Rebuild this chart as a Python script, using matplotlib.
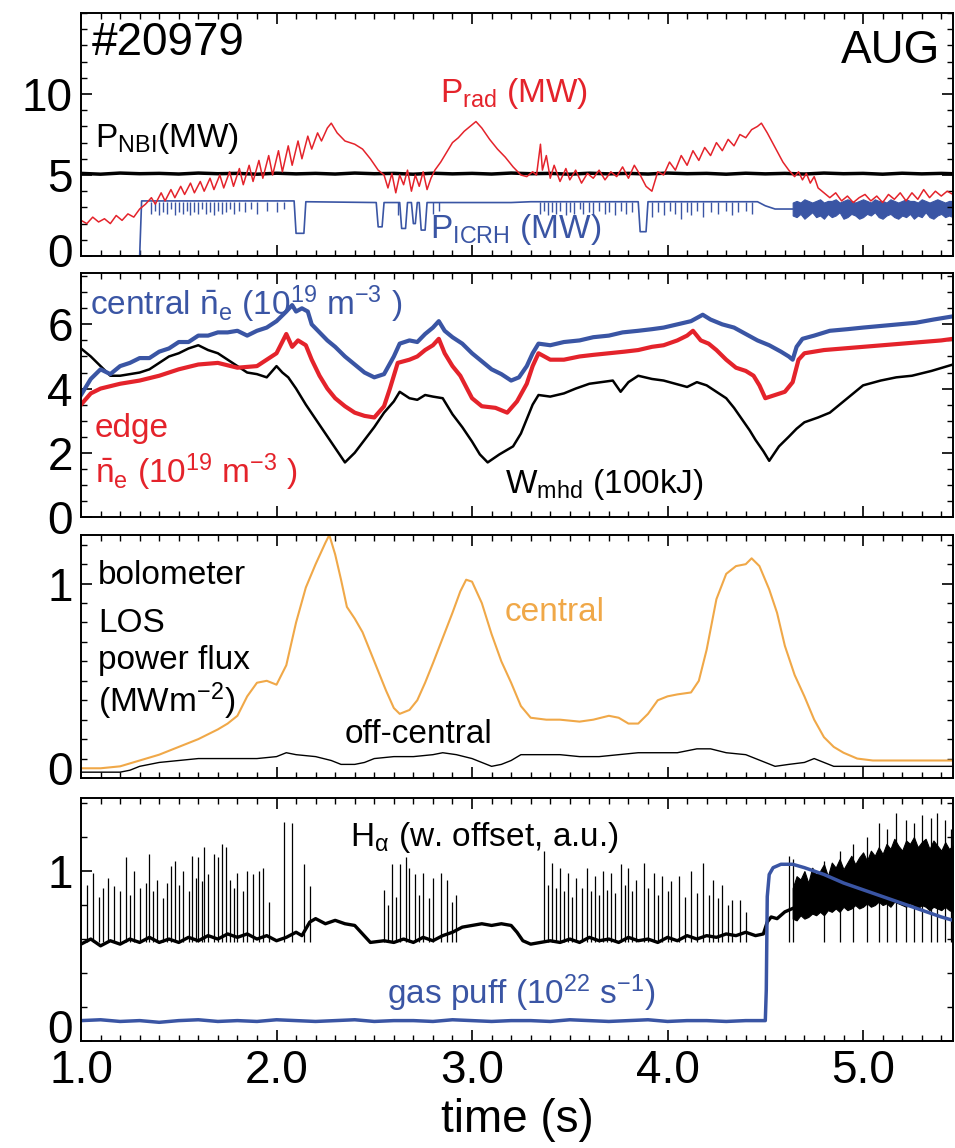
import matplotlib
matplotlib.use("Agg")
import matplotlib.pyplot as plt
from matplotlib.ticker import MultipleLocator, FixedLocator, FormatStrFormatter, FuncFormatter

plt.rcParams['font.family'] = ['Liberation Sans', 'DejaVu Sans']
plt.rcParams['mathtext.fontset'] = 'custom'
plt.rcParams['mathtext.rm'] = 'Liberation Sans'
plt.rcParams['mathtext.it'] = 'Liberation Sans:italic'
plt.rcParams['mathtext.bf'] = 'Liberation Sans:bold'

RED = '#e4232b'
BLUE = '#3a55a4'
ORANGE = '#f0a848'

# ---------------- panel 1: heating / radiated power (MW) ----------------
nbi_t = [1.0, 1.1, 1.2, 1.3, 1.4, 1.5, 1.6, 1.7, 1.8, 1.9, 2.0, 2.1, 2.2, 2.3, 2.4, 2.5,
         2.6, 2.7, 2.8, 2.9, 3.0, 3.1, 3.2, 3.3, 3.4, 3.5, 3.6, 3.7, 3.8, 3.9, 4.0, 4.1,
         4.2, 4.3, 4.4, 4.5, 4.6, 4.7, 4.8, 4.9, 5.0, 5.1, 5.2, 5.3, 5.4, 5.46]
nbi_v = [5.1, 5.05, 5.12, 5.08, 5.1, 5.06, 5.12, 5.08, 5.1, 5.05, 5.11, 5.07, 5.1, 5.06,
         5.12, 5.08, 5.1, 5.05, 5.11, 5.07, 5.1, 5.06, 5.12, 5.08, 5.1, 5.05, 5.11, 5.07,
         5.1, 5.06, 5.12, 5.08, 5.1, 5.05, 5.11, 5.07, 5.1, 5.06, 5.12, 5.08, 5.1, 5.05,
         5.11, 5.07, 5.1, 5.08]

prad_t = [1.00, 1.03, 1.06, 1.09, 1.12, 1.15, 1.18, 1.21, 1.24, 1.27, 1.30, 1.33, 1.36,
          1.38, 1.41, 1.43, 1.46, 1.48, 1.51, 1.53, 1.56, 1.58, 1.61, 1.63, 1.66, 1.68,
          1.71, 1.73, 1.76, 1.78, 1.81, 1.83, 1.86, 1.88, 1.91, 1.93, 1.96, 1.98, 2.01,
          2.03, 2.06, 2.08, 2.11, 2.13, 2.16, 2.18, 2.21, 2.23, 2.26, 2.28, 2.31, 2.35,
          2.40, 2.44, 2.48, 2.52, 2.55, 2.57, 2.59, 2.61, 2.63, 2.65, 2.67, 2.69, 2.71,
          2.73, 2.75, 2.77, 2.79, 2.81, 2.84, 2.87, 2.90, 2.93, 2.96, 2.99, 3.02, 3.05,
          3.09, 3.13, 3.17, 3.21, 3.25, 3.28, 3.31, 3.33, 3.35, 3.36, 3.38, 3.40, 3.42,
          3.45, 3.48, 3.50, 3.53, 3.56, 3.59, 3.62, 3.65, 3.68, 3.71, 3.74, 3.77, 3.80,
          3.83, 3.86, 3.89, 3.92, 3.95, 3.98, 4.01, 4.04, 4.07, 4.10, 4.13, 4.16, 4.19,
          4.22, 4.25, 4.28, 4.31, 4.34, 4.37, 4.40, 4.43, 4.46, 4.48, 4.51, 4.55, 4.59,
          4.62, 4.65, 4.67, 4.69, 4.71, 4.73, 4.75, 4.77, 4.80, 4.83, 4.86, 4.89, 4.92,
          4.95, 4.98, 5.01, 5.04, 5.07, 5.10, 5.13, 5.16, 5.19, 5.22, 5.25, 5.28, 5.31,
          5.34, 5.37, 5.40, 5.43, 5.46]
prad_v = [2.2, 2.0, 2.4, 2.1, 2.3, 2.0, 2.5, 2.2, 2.6, 2.4, 2.9, 3.2, 3.6,
          3.2, 3.9, 3.4, 4.1, 3.6, 4.3, 3.8, 4.5, 3.9, 4.6, 4.0, 4.8, 4.1,
          5.0, 4.2, 5.2, 4.3, 5.4, 4.4, 5.6, 4.6, 5.9, 4.8, 6.2, 5.0, 6.5,
          5.2, 6.8, 5.6, 7.1, 6.0, 7.4, 6.6, 7.6, 7.1, 7.9, 8.2, 7.6, 7.1,
          6.9, 6.6, 6.0, 5.3, 5.0, 4.2, 5.1, 3.9, 5.0, 4.4, 5.3, 4.0, 5.0,
          4.3, 5.2, 4.1, 4.8, 5.3, 5.8, 6.4, 7.0, 7.3, 7.7, 8.0, 8.3, 7.9,
          7.2, 6.6, 6.1, 5.5, 5.0, 4.9, 5.2, 5.0, 6.9, 5.3, 6.2, 4.8, 5.6,
          4.6, 5.4, 4.7, 5.3, 4.5, 5.1, 4.8, 5.3, 4.7, 5.2, 4.9, 5.5, 4.8,
          5.6, 5.0, 4.3, 4.0, 5.2, 5.0, 5.8, 5.3, 6.2, 5.6, 6.5, 5.9, 6.7,
          6.2, 7.0, 6.5, 7.2, 6.8, 7.5, 7.3, 7.8, 8.0, 8.2, 7.6, 6.7, 5.8,
          5.3, 4.9, 5.2, 4.7, 5.1, 4.5, 4.9, 4.2, 3.9, 3.6, 3.9, 3.4, 3.7,
          3.3, 3.6, 3.8, 3.4, 3.7, 3.3, 3.8, 3.5, 3.9, 3.4, 3.9, 3.5, 4.1,
          3.6, 4.0, 3.7, 4.0, 3.8]

icrh_t = [1.00, 1.30, 1.31, 2.09, 2.10, 2.14, 2.15, 2.51, 2.52, 2.54, 2.55, 2.63, 2.64,
          2.66, 2.67, 2.69, 2.70, 2.71, 2.72, 2.73, 2.74, 2.76, 2.77, 3.20, 3.30, 3.85,
          3.86, 3.89, 3.90, 4.46, 4.50, 4.55, 4.64]
icrh_v = [0.0, 0.0, 3.4, 3.4, 1.4, 1.4, 3.35, 3.3, 1.8, 1.8, 3.3, 3.3, 1.7,
          1.7, 3.3, 3.3, 2.0, 2.0, 3.3, 3.3, 1.6, 1.6, 3.3, 3.3, 3.35, 3.35,
          1.5, 1.5, 3.35, 3.35, 3.1, 2.9, 2.9]
icrh_spike_t = [1.36, 1.38, 1.40, 1.42, 1.44, 1.46, 1.48, 1.50, 1.52, 1.54, 1.56, 1.58,
                1.60, 1.62, 1.64, 1.66, 1.68, 1.70, 1.72, 1.74, 1.76, 1.78, 1.81, 1.84,
                1.87, 1.90, 1.95, 2.00, 2.04, 2.62, 2.80, 2.83, 3.35, 3.37, 3.39, 3.41,
                3.43, 3.45, 3.48, 3.50, 3.52, 3.55, 3.57, 3.60, 3.62, 3.65, 3.68, 3.70,
                3.73, 3.76, 3.79, 3.82, 3.92, 3.95, 3.98, 4.01, 4.04, 4.07, 4.10, 4.12,
                4.15, 4.18, 4.22, 4.26, 4.30, 4.33, 4.36, 4.40, 4.43]
icrh_spike_lo = [2.6, 2.8, 2.5, 2.7, 2.6, 2.9, 2.5, 2.7, 2.6, 2.8, 2.5, 2.7,
                 2.6, 2.9, 2.6, 2.7, 2.5, 2.8, 2.6, 2.7, 2.9, 2.6, 2.8, 2.7,
                 2.9, 2.6, 2.8, 2.7, 2.9, 2.5, 2.6, 2.8, 2.6, 2.8, 2.5, 2.7,
                 2.6, 2.8, 2.5, 2.7, 2.6, 2.9, 2.6, 2.7, 2.5, 2.8, 2.6, 2.7,
                 2.5, 2.8, 2.6, 2.7, 2.4, 2.7, 2.5, 2.8, 2.6, 2.3, 2.7, 2.5,
                 2.8, 2.4, 2.7, 2.6, 2.8, 2.5, 2.7, 2.8, 2.6]

band_t = [4.64, 4.66, 4.68, 4.70, 4.72, 4.74, 4.76, 4.78, 4.80, 4.82, 4.84, 4.86, 4.88,
          4.90, 4.92, 4.94, 4.96, 4.98, 5.00, 5.02, 5.04, 5.06, 5.08, 5.10, 5.12, 5.14,
          5.16, 5.18, 5.20, 5.22, 5.24, 5.26, 5.28, 5.30, 5.32, 5.34, 5.36, 5.38, 5.40,
          5.42, 5.44, 5.46]
icrh_band_lo = [2.5, 2.4, 2.6, 2.3, 2.5, 2.7, 2.4, 2.5, 2.3, 2.6, 2.4, 2.5, 2.7, 2.3,
                2.4, 2.6, 2.5, 2.3, 2.4, 2.6, 2.5, 2.7, 2.4, 2.3, 2.5, 2.6, 2.4, 2.3,
                2.5, 2.4, 2.6, 2.3, 2.5, 2.4, 2.7, 2.4, 2.3, 2.5, 2.6, 2.4, 2.5, 2.4]
icrh_band_hi = [3.3, 3.4, 3.3, 3.5, 3.4, 3.3, 3.4, 3.5, 3.3, 3.4, 3.4, 3.5, 3.3, 3.4,
                3.5, 3.4, 3.3, 3.4, 3.5, 3.4, 3.3, 3.5, 3.4, 3.4, 3.3, 3.5, 3.4, 3.3,
                3.4, 3.5, 3.4, 3.4, 3.3, 3.5, 3.4, 3.3, 3.4, 3.5, 3.4, 3.3, 3.4, 3.4]

# ---------------- panel 2: densities and stored energy ----------------
nec_t = [1.00, 1.05, 1.10, 1.15, 1.20, 1.25, 1.30, 1.35, 1.40, 1.45, 1.50, 1.55, 1.60,
         1.65, 1.70, 1.75, 1.80, 1.85, 1.90, 1.95, 2.00, 2.05, 2.08, 2.10, 2.13, 2.16,
         2.18, 2.22, 2.26, 2.30, 2.35, 2.40, 2.45, 2.50, 2.55, 2.60, 2.63, 2.68, 2.72,
         2.76, 2.80, 2.83, 2.86, 2.90, 2.95, 3.00, 3.05, 3.10, 3.15, 3.20, 3.24, 3.28,
         3.31, 3.34, 3.40, 3.47, 3.55, 3.62, 3.70, 3.77, 3.85, 3.92, 3.98, 4.05, 4.12,
         4.18, 4.22, 4.28, 4.34, 4.40, 4.46, 4.52, 4.58, 4.62, 4.64, 4.66, 4.69, 4.75,
         4.83, 4.92, 5.00, 5.09, 5.18, 5.27, 5.36, 5.46]
nec_v = [3.8, 4.3, 4.6, 4.45, 4.7, 4.8, 4.95, 4.95, 5.15, 5.25, 5.45, 5.45, 5.65,
         5.65, 5.75, 5.75, 5.8, 5.65, 5.8, 5.9, 6.1, 6.4, 6.6, 6.4, 6.5, 6.4,
         6.0, 5.75, 5.5, 5.3, 5.0, 4.75, 4.5, 4.35, 4.45, 5.0, 5.4, 5.5, 5.45,
         5.7, 5.9, 6.1, 5.8, 5.6, 5.4, 5.1, 4.85, 4.6, 4.45, 4.25, 4.35, 4.7,
         5.1, 5.4, 5.35, 5.45, 5.5, 5.6, 5.65, 5.75, 5.8, 5.85, 5.9, 6.0, 6.1,
         6.3, 6.15, 6.0, 5.9, 5.7, 5.5, 5.35, 5.15, 5.0, 4.9, 5.3, 5.55, 5.65,
         5.8, 5.85, 5.9, 5.95, 6.0, 6.05, 6.15, 6.25]

nee_t = [1.00, 1.05, 1.10, 1.20, 1.30, 1.40, 1.50, 1.60, 1.70, 1.80, 1.90, 1.95, 2.00,
         2.05, 2.08, 2.11, 2.15, 2.18, 2.22, 2.26, 2.30, 2.35, 2.40, 2.45, 2.50, 2.55,
         2.58, 2.62, 2.68, 2.72, 2.76, 2.80, 2.83, 2.86, 2.90, 2.94, 3.00, 3.05, 3.12,
         3.18, 3.23, 3.28, 3.31, 3.34, 3.40, 3.47, 3.55, 3.62, 3.70, 3.78, 3.85, 3.92,
         3.98, 4.05, 4.10, 4.13, 4.17, 4.21, 4.25, 4.30, 4.35, 4.40, 4.44, 4.47, 4.50,
         4.55, 4.60, 4.64, 4.67, 4.70, 4.80, 4.90, 5.00, 5.10, 5.20, 5.30, 5.40, 5.46]
nee_v = [3.5, 3.85, 4.0, 4.15, 4.25, 4.4, 4.6, 4.75, 4.8, 4.65, 4.7, 4.9, 5.1,
         5.7, 5.3, 5.5, 5.35, 4.9, 4.4, 4.0, 3.7, 3.45, 3.25, 3.15, 3.1, 3.45,
         4.0, 4.8, 4.9, 5.0, 5.2, 5.35, 5.55, 5.1, 4.7, 4.4, 3.7, 3.45, 3.4,
         3.25, 3.6, 4.15, 4.7, 5.1, 4.9, 4.9, 5.0, 5.05, 5.1, 5.15, 5.2, 5.3,
         5.35, 5.5, 5.65, 5.8, 5.5, 5.4, 5.2, 4.9, 4.65, 4.55, 4.4, 4.1, 3.7,
         3.8, 3.9, 4.2, 4.9, 5.1, 5.2, 5.25, 5.3, 5.35, 5.4, 5.45, 5.5, 5.55]

wmhd_t = [1.00, 1.05, 1.10, 1.15, 1.20, 1.25, 1.30, 1.35, 1.40, 1.45, 1.50, 1.55, 1.60,
          1.65, 1.70, 1.75, 1.80, 1.85, 1.90, 1.95, 2.00, 2.03, 2.06, 2.10, 2.15, 2.20,
          2.25, 2.30, 2.35, 2.40, 2.45, 2.50, 2.55, 2.60, 2.63, 2.68, 2.72, 2.76, 2.80,
          2.85, 2.90, 2.95, 3.00, 3.04, 3.08, 3.14, 3.21, 3.25, 3.28, 3.31, 3.34, 3.40,
          3.47, 3.53, 3.60, 3.66, 3.72, 3.76, 3.80, 3.85, 3.92, 3.98, 4.04, 4.10, 4.15,
          4.20, 4.25, 4.30, 4.34, 4.38, 4.42, 4.45, 4.49, 4.52, 4.57, 4.62, 4.66, 4.70,
          4.77, 4.83, 4.90, 5.00, 5.09, 5.17, 5.25, 5.35, 5.46]
wmhd_v = [5.25, 5.0, 4.7, 4.4, 4.4, 4.45, 4.5, 4.6, 4.8, 5.0, 5.1, 5.25, 5.35,
          5.2, 5.1, 4.9, 4.7, 4.5, 4.45, 4.35, 4.7, 4.5, 4.35, 4.0, 3.5, 3.05,
          2.6, 2.15, 1.7, 2.0, 2.4, 2.8, 3.25, 3.6, 3.9, 3.7, 3.65, 3.8, 3.75,
          3.7, 3.2, 2.8, 2.35, 1.95, 1.7, 1.95, 2.2, 2.6, 3.05, 3.5, 3.8, 3.75,
          3.85, 4.0, 4.15, 4.2, 4.25, 3.9, 4.2, 4.4, 4.3, 4.25, 4.15, 4.05, 4.2,
          4.1, 3.9, 3.7, 3.4, 3.05, 2.7, 2.4, 2.05, 1.75, 2.2, 2.5, 2.75, 2.95,
          3.1, 3.25, 3.6, 4.1, 4.25, 4.35, 4.4, 4.55, 4.75]

# ---------------- panel 3: bolometer LOS power flux (MW m^-2) ----------------
bolo_c_t = [1.00, 1.10, 1.20, 1.30, 1.40, 1.50, 1.60, 1.70, 1.75, 1.80, 1.85, 1.90, 1.95,
            2.00, 2.05, 2.10, 2.15, 2.20, 2.25, 2.27, 2.30, 2.33, 2.36, 2.40, 2.44, 2.48,
            2.52, 2.56, 2.60, 2.63, 2.68, 2.72, 2.76, 2.80, 2.85, 2.90, 2.94, 2.97, 3.00,
            3.05, 3.10, 3.15, 3.20, 3.25, 3.30, 3.38, 3.45, 3.55, 3.62, 3.70, 3.75, 3.80,
            3.85, 3.90, 3.95, 4.00, 4.05, 4.12, 4.16, 4.20, 4.25, 4.30, 4.35, 4.40, 4.43,
            4.47, 4.52, 4.56, 4.60, 4.65, 4.70, 4.75, 4.80, 4.85, 4.90, 4.97, 5.05, 5.20,
            5.35, 5.46]
bolo_c_v = [0.05, 0.05, 0.06, 0.09, 0.12, 0.16, 0.20, 0.25, 0.28, 0.32, 0.42, 0.49, 0.50,
            0.48, 0.58, 0.80, 0.98, 1.10, 1.21, 1.25, 1.15, 1.02, 0.88, 0.82, 0.75, 0.65,
            0.55, 0.45, 0.36, 0.33, 0.35, 0.40, 0.49, 0.59, 0.72, 0.85, 0.96, 1.02, 1.01,
            0.90, 0.74, 0.60, 0.49, 0.37, 0.31, 0.30, 0.30, 0.29, 0.30, 0.32, 0.31, 0.28,
            0.28, 0.33, 0.40, 0.42, 0.43, 0.44, 0.50, 0.66, 0.92, 1.05, 1.09, 1.10, 1.13,
            1.09, 0.97, 0.85, 0.68, 0.53, 0.42, 0.30, 0.21, 0.16, 0.13, 0.10, 0.09, 0.09,
            0.09, 0.09]

bolo_o_t = [1.00, 1.10, 1.20, 1.25, 1.30, 1.35, 1.40, 1.50, 1.60, 1.70, 1.80, 1.90, 2.00,
            2.05, 2.10, 2.20, 2.28, 2.33, 2.40, 2.45, 2.50, 2.60, 2.70, 2.80, 2.85, 2.92,
            3.00, 3.05, 3.10, 3.15, 3.20, 3.25, 3.35, 3.45, 3.55, 3.65, 3.75, 3.85, 3.95,
            4.05, 4.15, 4.22, 4.30, 4.40, 4.45, 4.50, 4.55, 4.62, 4.70, 4.75, 4.80, 4.85,
            4.95, 5.10, 5.30, 5.46]
bolo_o_v = [0.03, 0.03, 0.03, 0.04, 0.06, 0.07, 0.08, 0.09, 0.10, 0.10, 0.10, 0.10, 0.11,
            0.13, 0.12, 0.11, 0.09, 0.07, 0.07, 0.08, 0.10, 0.11, 0.11, 0.12, 0.13, 0.12,
            0.10, 0.08, 0.06, 0.07, 0.09, 0.12, 0.12, 0.12, 0.11, 0.11, 0.12, 0.13, 0.13,
            0.13, 0.15, 0.15, 0.13, 0.12, 0.10, 0.08, 0.06, 0.07, 0.08, 0.10, 0.08, 0.06,
            0.06, 0.06, 0.06, 0.06]

# ---------------- panel 4: H-alpha and gas puff ----------------
ha_t = [1.00, 1.05, 1.10, 1.15, 1.20, 1.25, 1.30, 1.35, 1.40, 1.45, 1.50, 1.55, 1.60,
        1.65, 1.70, 1.75, 1.80, 1.85, 1.90, 1.95, 2.00, 2.05, 2.10, 2.13, 2.17, 2.20,
        2.25, 2.30, 2.35, 2.40, 2.44, 2.48, 2.55, 2.60, 2.65, 2.70, 2.75, 2.80, 2.85,
        2.90, 2.95, 3.00, 3.05, 3.10, 3.15, 3.20, 3.23, 3.26, 3.30, 3.35, 3.40, 3.45,
        3.50, 3.55, 3.60, 3.65, 3.70, 3.75, 3.80, 3.85, 3.90, 3.95, 4.00, 4.05, 4.10,
        4.15, 4.20, 4.25, 4.30, 4.35, 4.40, 4.45, 4.49, 4.51, 4.53, 4.56, 4.60, 4.64]
ha_v = [0.57, 0.60, 0.56, 0.59, 0.57, 0.60, 0.58, 0.61, 0.58, 0.60, 0.58, 0.61, 0.59,
        0.62, 0.60, 0.63, 0.61, 0.63, 0.60, 0.62, 0.59, 0.61, 0.64, 0.62, 0.70, 0.72,
        0.69, 0.71, 0.69, 0.68, 0.63, 0.58, 0.59, 0.58, 0.60, 0.58, 0.61, 0.59, 0.62,
        0.64, 0.67, 0.68, 0.69, 0.68, 0.69, 0.68, 0.64, 0.59, 0.57, 0.58, 0.59, 0.58,
        0.60, 0.58, 0.61, 0.59, 0.60, 0.58, 0.61, 0.59, 0.60, 0.58, 0.61, 0.59, 0.62,
        0.60, 0.62, 0.61, 0.63, 0.62, 0.64, 0.62, 0.63, 0.70, 0.73, 0.72, 0.76, 0.78]

ha_spike_t = [1.03, 1.06, 1.09, 1.11, 1.14, 1.17, 1.20, 1.23, 1.25, 1.27, 1.30, 1.33, 1.35,
              1.37, 1.39, 1.42, 1.44, 1.46, 1.48, 1.50, 1.52, 1.55, 1.57, 1.59, 1.60, 1.62,
              1.63, 1.65, 1.68, 1.70, 1.72, 1.74, 1.76, 1.78, 1.80, 1.83, 1.85, 1.88, 1.91,
              1.93, 1.96, 2.04, 2.08, 2.14, 2.17,
              2.55, 2.57, 2.59, 2.61, 2.63, 2.66, 2.68, 2.71, 2.73, 2.75, 2.78, 2.80, 2.84,
              2.87, 2.90, 2.92,
              3.37, 3.39, 3.41, 3.43, 3.45, 3.47, 3.49, 3.51, 3.53, 3.56, 3.59, 3.61, 3.63,
              3.65, 3.67, 3.69, 3.71, 3.73, 3.76, 3.78, 3.80, 3.82, 3.84, 3.88, 3.90, 3.93,
              3.95, 3.97, 4.00, 4.02, 4.06, 4.09, 4.12, 4.15, 4.18, 4.21, 4.23, 4.26, 4.28,
              4.31, 4.33, 4.37, 4.40,
              4.62, 4.64, 4.80, 4.88, 4.95, 5.02, 5.08, 5.12, 5.17, 5.22, 5.26, 5.30, 5.35,
              5.38, 5.42, 5.45]
ha_spike_top = [0.92, 0.99, 0.85, 0.90, 0.96, 0.91, 0.88, 1.08, 0.86, 1.00, 0.90, 0.93, 1.10,
                0.88, 0.95, 0.84, 0.93, 1.03, 1.06, 0.92, 1.00, 0.88, 1.09, 0.96, 1.08, 0.94,
                1.14, 0.98, 1.10, 1.08, 1.16, 1.14, 0.95, 0.90, 0.99, 0.88, 1.00, 0.98, 1.00,
                1.02, 0.82, 1.29, 1.28, 1.04, 0.91,
                0.89, 0.80, 1.04, 0.85, 1.04, 1.08, 1.02, 0.98, 0.86, 0.99, 0.84, 0.96, 0.99,
                0.95, 0.82, 0.86,
                1.12, 0.92, 1.05, 0.90, 1.02, 0.88, 0.99, 0.85, 0.96, 0.90, 1.02, 0.88, 0.97,
                0.86, 1.00, 0.89, 0.99, 0.87, 1.04, 0.92, 1.02, 0.88, 0.95, 1.05, 0.90, 0.99,
                0.86, 0.97, 0.88, 0.94, 0.97, 0.85, 1.00, 0.87, 1.05, 0.86, 0.95, 0.84, 0.92,
                0.80, 0.83, 0.83, 0.76,
                1.09, 1.07, 1.06, 1.12, 1.16, 1.20, 1.28, 1.25, 1.34, 1.30, 1.28, 1.33, 1.31,
                1.34, 1.30, 1.25]
ha_spike_base = 0.58

ha_band_lo = [0.72, 0.71, 0.74, 0.72, 0.73, 0.75, 0.74, 0.76, 0.74, 0.77, 0.76, 0.78, 0.76,
              0.79, 0.77, 0.78, 0.80, 0.78, 0.79, 0.81, 0.79, 0.80, 0.82, 0.80, 0.81, 0.79,
              0.82, 0.81, 0.80, 0.79, 0.81, 0.80, 0.78, 0.80, 0.79, 0.77, 0.79, 0.78, 0.77,
              0.79, 0.77, 0.76]
ha_band_hi = [0.90, 0.97, 0.95, 1.00, 0.93, 1.02, 0.98, 1.00, 1.04, 0.97, 1.05, 1.02, 1.07,
              1.01, 1.05, 1.09, 1.04, 1.08, 1.11, 1.06, 1.12, 1.09, 1.14, 1.10, 1.16, 1.13,
              1.19, 1.15, 1.12, 1.18, 1.16, 1.20, 1.14, 1.17, 1.19, 1.13, 1.18, 1.15, 1.12,
              1.17, 1.13, 1.15]

gas_t = [1.00, 1.10, 1.20, 1.30, 1.40, 1.50, 1.60, 1.70, 1.80, 1.90, 2.00, 2.10, 2.20,
         2.30, 2.40, 2.50, 2.60, 2.70, 2.80, 2.90, 3.00, 3.10, 3.20, 3.30, 3.40, 3.50,
         3.60, 3.70, 3.80, 3.90, 4.00, 4.10, 4.20, 4.30, 4.40, 4.50, 4.505, 4.51, 4.52,
         4.54, 4.58, 4.64, 4.70, 4.80, 4.90, 5.00, 5.10, 5.20, 5.30, 5.40, 5.46]
gas_v = [0.12, 0.125, 0.115, 0.12, 0.11, 0.12, 0.125, 0.115, 0.12, 0.115, 0.125, 0.12, 0.115,
         0.12, 0.125, 0.115, 0.12, 0.12, 0.115, 0.125, 0.12, 0.115, 0.12, 0.12, 0.115, 0.125,
         0.12, 0.115, 0.12, 0.125, 0.115, 0.12, 0.12, 0.115, 0.12, 0.12, 0.30, 0.85, 0.98,
         1.02, 1.04, 1.04, 1.02, 0.98, 0.93, 0.89, 0.85, 0.81, 0.77, 0.73, 0.71]

# ---------------- figure ----------------
fig = plt.figure(figsize=(9.55, 11.48), dpi=100)
left, right = 81 / 955, 953 / 955
rows = [(13, 256), (273, 517), (535, 778), (798, 1041)]
axes = []
for top, bot in rows:
    ax = fig.add_axes([left, 1 - bot / 1148, right - left, (bot - top) / 1148])
    axes.append(ax)
ax1, ax2, ax3, ax4 = axes

for ax in axes:
    ax.set_xlim(1.0, 5.46)
    ax.xaxis.set_major_locator(MultipleLocator(1.0))
    ax.xaxis.set_minor_locator(MultipleLocator(0.1))
    ax.tick_params(which='both', direction='in', top=True, right=True, labelsize=33, pad=6)
    ax.tick_params(which='major', length=8, width=1.2)
    ax.tick_params(which='minor', length=4.5, width=1.0)
    for s in ax.spines.values():
        s.set_linewidth(1.4)
    if ax is not ax4:
        ax.tick_params(labelbottom=False)

# the "0" labels sit a little above their ticks in the reference
hide_zero = FuncFormatter(lambda v, pos: '' if v == 0 else '%g' % v)
for ax, dy in [(ax1, 4), (ax3, 7), (ax4, 11)]:
    ax.yaxis.set_major_formatter(hide_zero)
    ax.annotate('0', (0, 0), xycoords='axes fraction', xytext=(-6, dy),
                textcoords='offset points', ha='right', va='center_baseline', fontsize=33)

# panel 1
ax1.set_ylim(0, 15)
ax1.yaxis.set_major_locator(FixedLocator([0, 5, 10]))
ax1.yaxis.set_minor_locator(MultipleLocator(1))
ax1.plot(icrh_t, icrh_v, color=BLUE, lw=1.2)
ax1.vlines(icrh_spike_t, icrh_spike_lo, 3.35, color=BLUE, lw=1.0)
ax1.fill_between(band_t, icrh_band_lo, icrh_band_hi, color=BLUE, lw=0.8, edgecolor=BLUE)
ax1.plot(nbi_t, nbi_v, color='black', lw=2.5)
ax1.plot(prad_t, prad_v, color=RED, lw=1.1)
ax1.text(1.056, 12.4, '#20979', fontsize=33)
ax1.text(5.394, 11.9, 'AUG', fontsize=33, ha='right')
ax1.text(1.072, 6.7, r'P$_\mathrm{NBI}$(MW)', fontsize=24)
ax1.text(2.836, 9.5, r'P$_\mathrm{rad}$ (MW)', fontsize=24, color=RED)
ax1.text(2.785, 1.1, r'P$_\mathrm{ICRH}$ (MW)', fontsize=24, color=BLUE)

# panel 2
ax2.set_ylim(0, 7.6)
ax2.yaxis.set_major_locator(MultipleLocator(2))
ax2.yaxis.set_minor_locator(MultipleLocator(0.5))
ax2.plot(wmhd_t, wmhd_v, color='black', lw=1.8)
ax2.plot(nee_t, nee_v, color=RED, lw=3.0)
ax2.plot(nec_t, nec_v, color=BLUE, lw=3.0)
ax2.text(1.046, 6.3, r'central $\bar{\mathrm{n}}_\mathrm{e}$ (10$^{19}$ m$^{-3}$ )',
         fontsize=24, color=BLUE)
ax2.text(1.072, 2.5, 'edge', fontsize=24, color=RED)
ax2.text(1.072, 1.05, r'$\bar{\mathrm{n}}_\mathrm{e}$ (10$^{19}$ m$^{-3}$ )',
         fontsize=24, color=RED)
ax2.text(3.169, 0.75, r'W$_\mathrm{mhd}$ (100kJ)', fontsize=24)

# panel 3
ax3.set_ylim(0, 1.25)
ax3.yaxis.set_major_locator(MultipleLocator(1))
ax3.yaxis.set_minor_locator(MultipleLocator(0.1))
ax3.plot(bolo_o_t, bolo_o_v, color='black', lw=1.0)
ax3.plot(bolo_c_t, bolo_c_v, color=ORANGE, lw=1.5)
ax3.text(1.087, 1.0, 'bolometer', fontsize=24)
ax3.text(1.087, 0.75, 'LOS', fontsize=24)
ax3.text(1.087, 0.56, 'power flux', fontsize=24)
ax3.text(1.087, 0.34, r'(MWm$^{-2}$)', fontsize=24)
ax3.text(3.169, 0.81, 'central', fontsize=24, color=ORANGE)
ax3.text(2.35, 0.18, 'off-central', fontsize=24)

# panel 4
ax4.set_ylim(0, 1.43)
ax4.yaxis.set_major_locator(MultipleLocator(1))
ax4.yaxis.set_minor_locator(MultipleLocator(0.2))
ax4.vlines(ha_spike_t, ha_spike_base, ha_spike_top, color='black', lw=0.9)
ax4.plot(ha_t, ha_v, color='black', lw=2.4)
ax4.fill_between(band_t, ha_band_lo, ha_band_hi, color='black', lw=0.8, edgecolor='black')
ax4.plot(gas_t, gas_v, color=BLUE, lw=2.5)
ax4.text(2.376, 1.15, r'H$_\mathrm{α}$ (w. offset, a.u.)', fontsize=24)
ax4.text(2.565, 0.22, r'gas puff (10$^{22}$ s$^{-1}$)', fontsize=24, color=BLUE)
ax4.xaxis.set_major_formatter(FormatStrFormatter('%.1f'))
ax4.set_xlabel('time (s)', fontsize=33, labelpad=3)

fig.savefig('out.png', dpi=100)
